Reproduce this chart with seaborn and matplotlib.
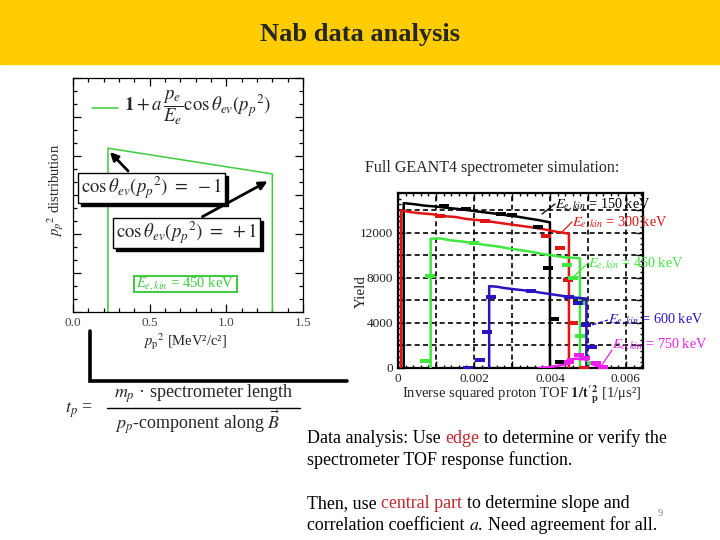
import numpy as np
import pandas as pd
import seaborn as sns
import matplotlib
matplotlib.use("Agg")
import matplotlib.pyplot as plt
from matplotlib.patches import Rectangle
from matplotlib.path import Path
from matplotlib.ticker import MultipleLocator, FuncFormatter

# ---------------- data ----------------
# left panel: idealised p_p^2 distribution (E_e,kin = 450 keV)
model_x = [0.228, 0.228, 1.30, 1.30]
model_y = [0.0, 4.2, 3.54, 0.0]

# right panel: simulated yield vs 1/t_p^2 (top edge of each histogram)
bk_x = [0.00015, 0.0004, 0.0007, 0.0010, 0.0013, 0.0016, 0.0019, 0.0022, 0.0025, 0.0028, 0.0031, 0.0034, 0.0037, 0.0040]
bk_y = [14600, 14520, 14380, 14300, 14180, 14080, 13950, 13820, 13700, 13560, 13430, 13260, 13100, 12900]
rd_x = [0.00008, 0.0003, 0.0006, 0.0009, 0.0012, 0.0015, 0.0018, 0.0021, 0.0024, 0.0027, 0.0030, 0.0033, 0.0036, 0.0039, 0.0042, 0.0045]
rd_y = [13950, 13820, 13700, 13620, 13450, 13380, 13200, 13100, 12980, 12840, 12700, 12560, 12420, 12250, 12050, 11900]
gr_x = [0.00086, 0.0011, 0.0014, 0.0017, 0.0020, 0.0023, 0.0026, 0.0029, 0.0032, 0.0035, 0.0038, 0.0041, 0.0044, 0.00479]
gr_y = [11450, 11480, 11300, 11200, 11050, 10900, 10780, 10600, 10450, 10300, 10100, 9950, 9800, 9720]
bl_x = [0.0024, 0.0026, 0.0028, 0.0030, 0.0032, 0.0034, 0.0036, 0.0038, 0.0040, 0.0042, 0.0044, 0.0046, 0.00496]
bl_y = [7250, 7200, 7080, 7000, 6920, 6850, 6750, 6650, 6550, 6450, 6350, 6250, 6150]
mg_x = [0.0037, 0.0040, 0.0043, 0.00447, 0.00447, 0.0047, 0.00492, 0.0051, 0.0054]
mg_y = [0, 80, 250, 350, 750, 820, 760, 350, 0]

# scattered data points (dashes)
bk_px = [0.0012, 0.0018, 0.0027, 0.0030, 0.00368, 0.00395, 0.0041, 0.00427]
bk_py = [14350, 14050, 13650, 13550, 12530, 8830, 4340, 560]
rd_px = [0.0011, 0.0023, 0.0039, 0.00427, 0.00448, 0.0046, 0.0049]
rd_py = [13500, 13050, 11650, 10600, 7780, 4010, 0]
gr_px = [0.0007, 0.00084, 0.0020, 0.00444, 0.0046, 0.0048, 0.0048, 0.0051]
gr_py = [640, 8120, 11100, 9100, 7980, 5780, 2800, 470]
bl_px = [0.00184, 0.00216, 0.00234, 0.00246, 0.0035, 0.0045, 0.00475, 0.00496, 0.0051]
bl_py = [0, 730, 3220, 6300, 6800, 6250, 5740, 3810, 1900]
mg_px = [0.0045, 0.00477, 0.00492, 0.0052, 0.0054]
mg_py = [550, 1170, 900, 470, 120]

energies = ["150", "300", "450", "600", "750"]

# ---------------- style ----------------
sns.set_style("ticks")
plt.rcParams["font.family"] = ["Liberation Serif", "DejaVu Serif"]
plt.rcParams["mathtext.fontset"] = "stix"

W, H = 720, 540
fig = plt.figure(figsize=(7.2, 5.4), dpi=100)
fig.patch.set_facecolor("white")


def px_axes(x0, y0, x1, y1):
    return fig.add_axes([x0 / W, 1 - y1 / H, (x1 - x0) / W, (y1 - y0) / H])


C_BK, C_RD, C_GR, C_BL, C_MG = "#000000", "#e01515", "#3ee83e", "#2a14c0", "#ee1fee"

# ---------------- left panel ----------------
axL = px_axes(73, 78, 303, 312)
sns.lineplot(x=model_x, y=model_y, sort=False, estimator=None, color="#3ccc3c", lw=1.1, ax=axL)
axL.set_xlim(0, 1.5)
axL.set_ylim(0, 6)
axL.xaxis.set_major_locator(MultipleLocator(0.5))
axL.xaxis.set_minor_locator(MultipleLocator(0.1))
axL.xaxis.set_major_formatter(FuncFormatter(lambda v, p: f"{v:.1f}"))
axL.yaxis.set_major_locator(MultipleLocator(1))
axL.yaxis.set_minor_locator(MultipleLocator(1 / 3))
axL.set_yticklabels([])
axL.tick_params(which="both", direction="in", top=True, right=True, width=0.9, colors="black",
                labelcolor="#444444", labelsize=9.5)
axL.tick_params(which="major", length=6)
axL.tick_params(which="minor", length=3)
axL.set_xlabel("")
axL.set_ylabel("")
for s in axL.spines.values():
    s.set_linewidth(0.9)
    s.set_color("black")

# ---------------- right panel ----------------
axR = px_axes(398, 193, 643, 368)
series = [(bk_x, bk_y, C_BK), (rd_x, rd_y, C_RD), (gr_x, gr_y, C_GR), (bl_x, bl_y, C_BL)]
for xs, ys, c in series:
    ox = [xs[0]] + list(xs) + [xs[-1]]
    oy = [0] + list(ys) + [0]
    sns.lineplot(x=ox, y=oy, sort=False, estimator=None, color=c, lw=1.8, ax=axR, zorder=3)
sns.lineplot(x=mg_x, y=mg_y, sort=False, estimator=None, color=C_MG, lw=1.8, ax=axR, zorder=3)

dash = Path([(-1, -0.38), (1, -0.38), (1, 0.38), (-1, 0.38), (-1, -0.38)],
            [Path.MOVETO, Path.LINETO, Path.LINETO, Path.LINETO, Path.CLOSEPOLY])
for xs, ys, c in [(bk_px, bk_py, C_BK), (rd_px, rd_py, C_RD), (gr_px, gr_py, C_GR),
                  (bl_px, bl_py, C_BL), (mg_px, mg_py, C_MG)]:
    sns.scatterplot(x=xs, y=ys, marker=dash, s=45, color=c, linewidth=0, ax=axR, zorder=4)

axR.set_xlim(0, 0.00645)
axR.set_ylim(0, 15500)
axR.xaxis.set_major_locator(MultipleLocator(0.001))
axR.xaxis.set_minor_locator(MultipleLocator(0.0002))
axR.xaxis.set_major_formatter(FuncFormatter(
    lambda v, p: ("0" if abs(v) < 1e-9 else f"{v:.3f}") if round(v / 0.001) % 2 == 0 else ""))
axR.yaxis.set_major_locator(MultipleLocator(2000))
axR.yaxis.set_minor_locator(MultipleLocator(500))
axR.yaxis.set_major_formatter(FuncFormatter(lambda v, p: f"{v:.0f}" if round(v) % 4000 == 0 else ""))
axR.grid(True, which="major", color="black", ls=(0, (3, 2)), lw=1.2)
axR.tick_params(which="both", direction="in", top=True, right=True, width=1.0, colors="black",
                labelcolor="#222222", labelsize=9.5)
axR.tick_params(which="major", length=5)
axR.tick_params(which="minor", length=2.5)
axR.set_xlabel("")
axR.set_ylabel("")
for s in axR.spines.values():
    s.set_linewidth(1.6)
    s.set_color("black")

# ---------------- overlay (pixel coordinates) ----------------
ov = fig.add_axes([0, 0, 1, 1])
ov.set_xlim(0, W)
ov.set_ylim(H, 0)
ov.axis("off")
ov.patch.set_visible(False)
ov.set_zorder(5)

# banner
ov.add_patch(Rectangle((0, 0), W, 64, color="#ffcc00", zorder=0))
ov.text(360, 34, "Nab data analysis", ha="center", va="center", fontsize=19, fontweight="bold")

# left panel annotations
ov.plot([92, 118], [108, 108], color="#3ccc3c", lw=1.1)
ov.text(124, 108, r"$\mathbf{1} + a\,\dfrac{p_e}{E_e}\cos\theta_{ev}(p_p{}^2)$", ha="left", va="center", fontsize=13.5)

for (x0, y0, x1, y1), lab in [((78, 173, 225, 203), r"$\cos\theta_{ev}(p_p{}^2)\ =\ -1$"),
                              ((113, 218, 260, 248), r"$\cos\theta_{ev}(p_p{}^2)\ =\ +1$")]:
    ov.add_patch(Rectangle((x0 + 3, y0 + 3), x1 - x0, y1 - y0, facecolor="black", edgecolor="black", zorder=2))
    ov.add_patch(Rectangle((x0, y0), x1 - x0, y1 - y0, facecolor="white", edgecolor="black", lw=1.0, zorder=3))
    ov.text((x0 + x1) / 2, (y0 + y1) / 2, lab, ha="center", va="center", fontsize=13.5, zorder=4)

ov.annotate("", xy=(108, 150), xytext=(130, 173),
            arrowprops=dict(arrowstyle="-|>", color="black", lw=2, mutation_scale=12))
ov.annotate("", xy=(270, 180), xytext=(200, 218),
            arrowprops=dict(arrowstyle="-|>", color="black", lw=2, mutation_scale=12))

ov.add_patch(Rectangle((134, 276), 103, 16, facecolor="white", edgecolor="#3ccc3c", lw=1.4, zorder=3))
ov.text(185.5, 284, r"$E_{e,kin}$ = 450 keV", color="#3ccc3c", ha="center", va="center", fontsize=10.5, zorder=4)

ov.text(56, 190, r"$p_p{}^2$ distribution", rotation=90, ha="center", va="center", fontsize=10.5)
ov.text(185, 342, r"$p_\mathrm{p}{}^2$ [MeV²/c²]", ha="center", va="center", fontsize=10.5)

# bracket
ov.plot([90, 90, 347], [331, 381, 381], color="black", lw=2.6, solid_joinstyle="miter")

# t_p formula
ov.text(65, 410, r"$t_p$ =", ha="left", va="center", fontsize=13)
ov.text(204, 394, r"$m_p$ · spectrometer length", ha="center", va="center", fontsize=13)
ov.plot([107, 300], [408, 408], color="black", lw=1.0)
ov.text(198, 422, r"$p_p$-component along $\vec{B}$", ha="center", va="center", fontsize=13)

# right panel annotations
ov.text(365, 168, "Full GEANT4 spectrometer simulation:", ha="left", va="center", fontsize=11.5)
ov.text(361, 292, "Yield", rotation=90, ha="center", va="center", fontsize=11)
ov.text(522, 395, r"Inverse squared proton TOF $\mathbf{1/t'^{2}_{p}}$ [1/μs²]", ha="center", va="center", fontsize=10.5)

labels = [(energies[0], C_BK, (542, 214), (555, 204), 555, 205, "-"),
          (energies[1], C_RD, (562, 232), (572, 222), 572, 223, "-"),
          (energies[2], C_GR, (572, 278), (588, 263), 588, 264, "-"),
          (energies[3], C_BL, (592, 325), (608, 320), 608, 320, "--"),
          (energies[4], C_MG, (602, 365), (612, 350), 612, 345, "-")]
for e, c, p0, p1, tx, ty, ls in labels:
    ov.plot([p0[0], p1[0]], [p0[1], p1[1]], color=c, lw=0.9, ls=ls)
    ov.text(tx, ty, rf"$E_{{e,kin}}$ = {e} keV", color=c, ha="left", va="center", fontsize=10.3)

# bottom text with coloured runs
RED = "#c0282d"


def runs(x, y, parts, size=12.9):
    t = ov.text(x, y, parts[0][0], color=parts[0][1], fontsize=size, ha="left", va="baseline")
    for s, c in parts[1:]:
        t = ov.annotate(s, xy=(1, y), xycoords=(t, "data"), xytext=(size * 0.25, 0),
                        textcoords="offset points", color=c, fontsize=size, ha="left", va="baseline")
    return t


runs(307, 443, [("Data analysis: Use", "black"), ("edge", RED), ("to determine or verify the", "black")])
runs(307, 465, [("spectrometer TOF response function.", "black")])
runs(307, 508, [("Then, use", "black"), ("central part", RED), ("to determine slope and", "black")])
runs(307, 530, [("correlation coefficient", "black"), ("$a$.", "black"), ("Need agreement for all.", "black")])
ov.text(660, 513, "9", color="#888888", fontsize=7.5, ha="center", va="center")

fig.savefig("out.png", dpi=100)
